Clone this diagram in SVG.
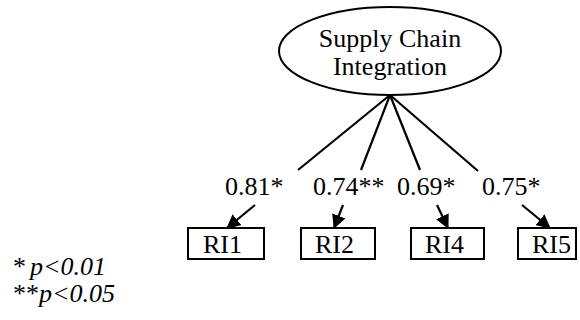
<svg xmlns="http://www.w3.org/2000/svg" width="580" height="320" viewBox="0 0 580 320" font-family="'Liberation Serif', 'Times New Roman', 'DejaVu Serif', serif" font-size="26">
<defs>
<style>
text{font-family:'Liberation Serif','Times New Roman','DejaVu Serif',serif;font-size:26px;fill:#000}
.it{font-style:italic}
.shape{fill:#fff;stroke:#000;stroke-width:2}
.edge{stroke:#000;stroke-width:2.2;fill:none}
</style>
<marker id="ah" markerUnits="userSpaceOnUse" markerWidth="14" markerHeight="14" refX="13" refY="7" orient="auto">
<path d="M0,0 L14,7 L0,14 z" fill="#000"/>
</marker>
</defs>
<rect width="580" height="320" fill="#fff"/>
<g id="connectors">
<line class="edge" x1="390" y1="95" x2="298" y2="170"/>
<line class="edge" x1="390" y1="95" x2="361" y2="170"/>
<line class="edge" x1="390" y1="95" x2="420" y2="170"/>
<line class="edge" x1="390" y1="95" x2="478" y2="171"/>
<line class="edge" x1="255" y1="205" x2="227" y2="228" marker-end="url(#ah)"/>
<line class="edge" x1="343" y1="205" x2="334" y2="228" marker-end="url(#ah)"/>
<line class="edge" x1="437" y1="205" x2="448" y2="228" marker-end="url(#ah)"/>
<line class="edge" x1="522" y1="205" x2="550" y2="228" marker-end="url(#ah)"/>
<text x="225" y="195">0.81*</text>
<text x="313" y="195">0.74**</text>
<text x="397" y="195">0.69*</text>
<text x="482" y="195">0.75*</text>
</g>
<g id="sci">
<ellipse class="shape" cx="390" cy="51" rx="111" ry="44"/>
<text x="390" y="47" text-anchor="middle">Supply Chain</text>
<text x="390" y="75" text-anchor="middle">Integration</text>
</g>
<g id="ri1">
<rect class="shape" x="188" y="228" width="76" height="31"/>
<text x="203" y="253">RI1</text>
</g>
<g id="ri2">
<rect class="shape" x="301" y="228" width="74" height="31"/>
<text x="315" y="253">RI2</text>
</g>
<g id="ri4">
<rect class="shape" x="411" y="228" width="73" height="31"/>
<text x="425" y="253">RI4</text>
</g>
<g id="ri5">
<rect class="shape" x="518" y="228" width="58" height="31"/>
<text x="532" y="253">RI5</text>
</g>
<g id="legend">
<text x="13" y="275">*<tspan class="it" x="30">p&lt;0.01</tspan></text>
<text x="13" y="302">**<tspan class="it" x="39">p&lt;0.05</tspan></text>
</g>
</svg>
